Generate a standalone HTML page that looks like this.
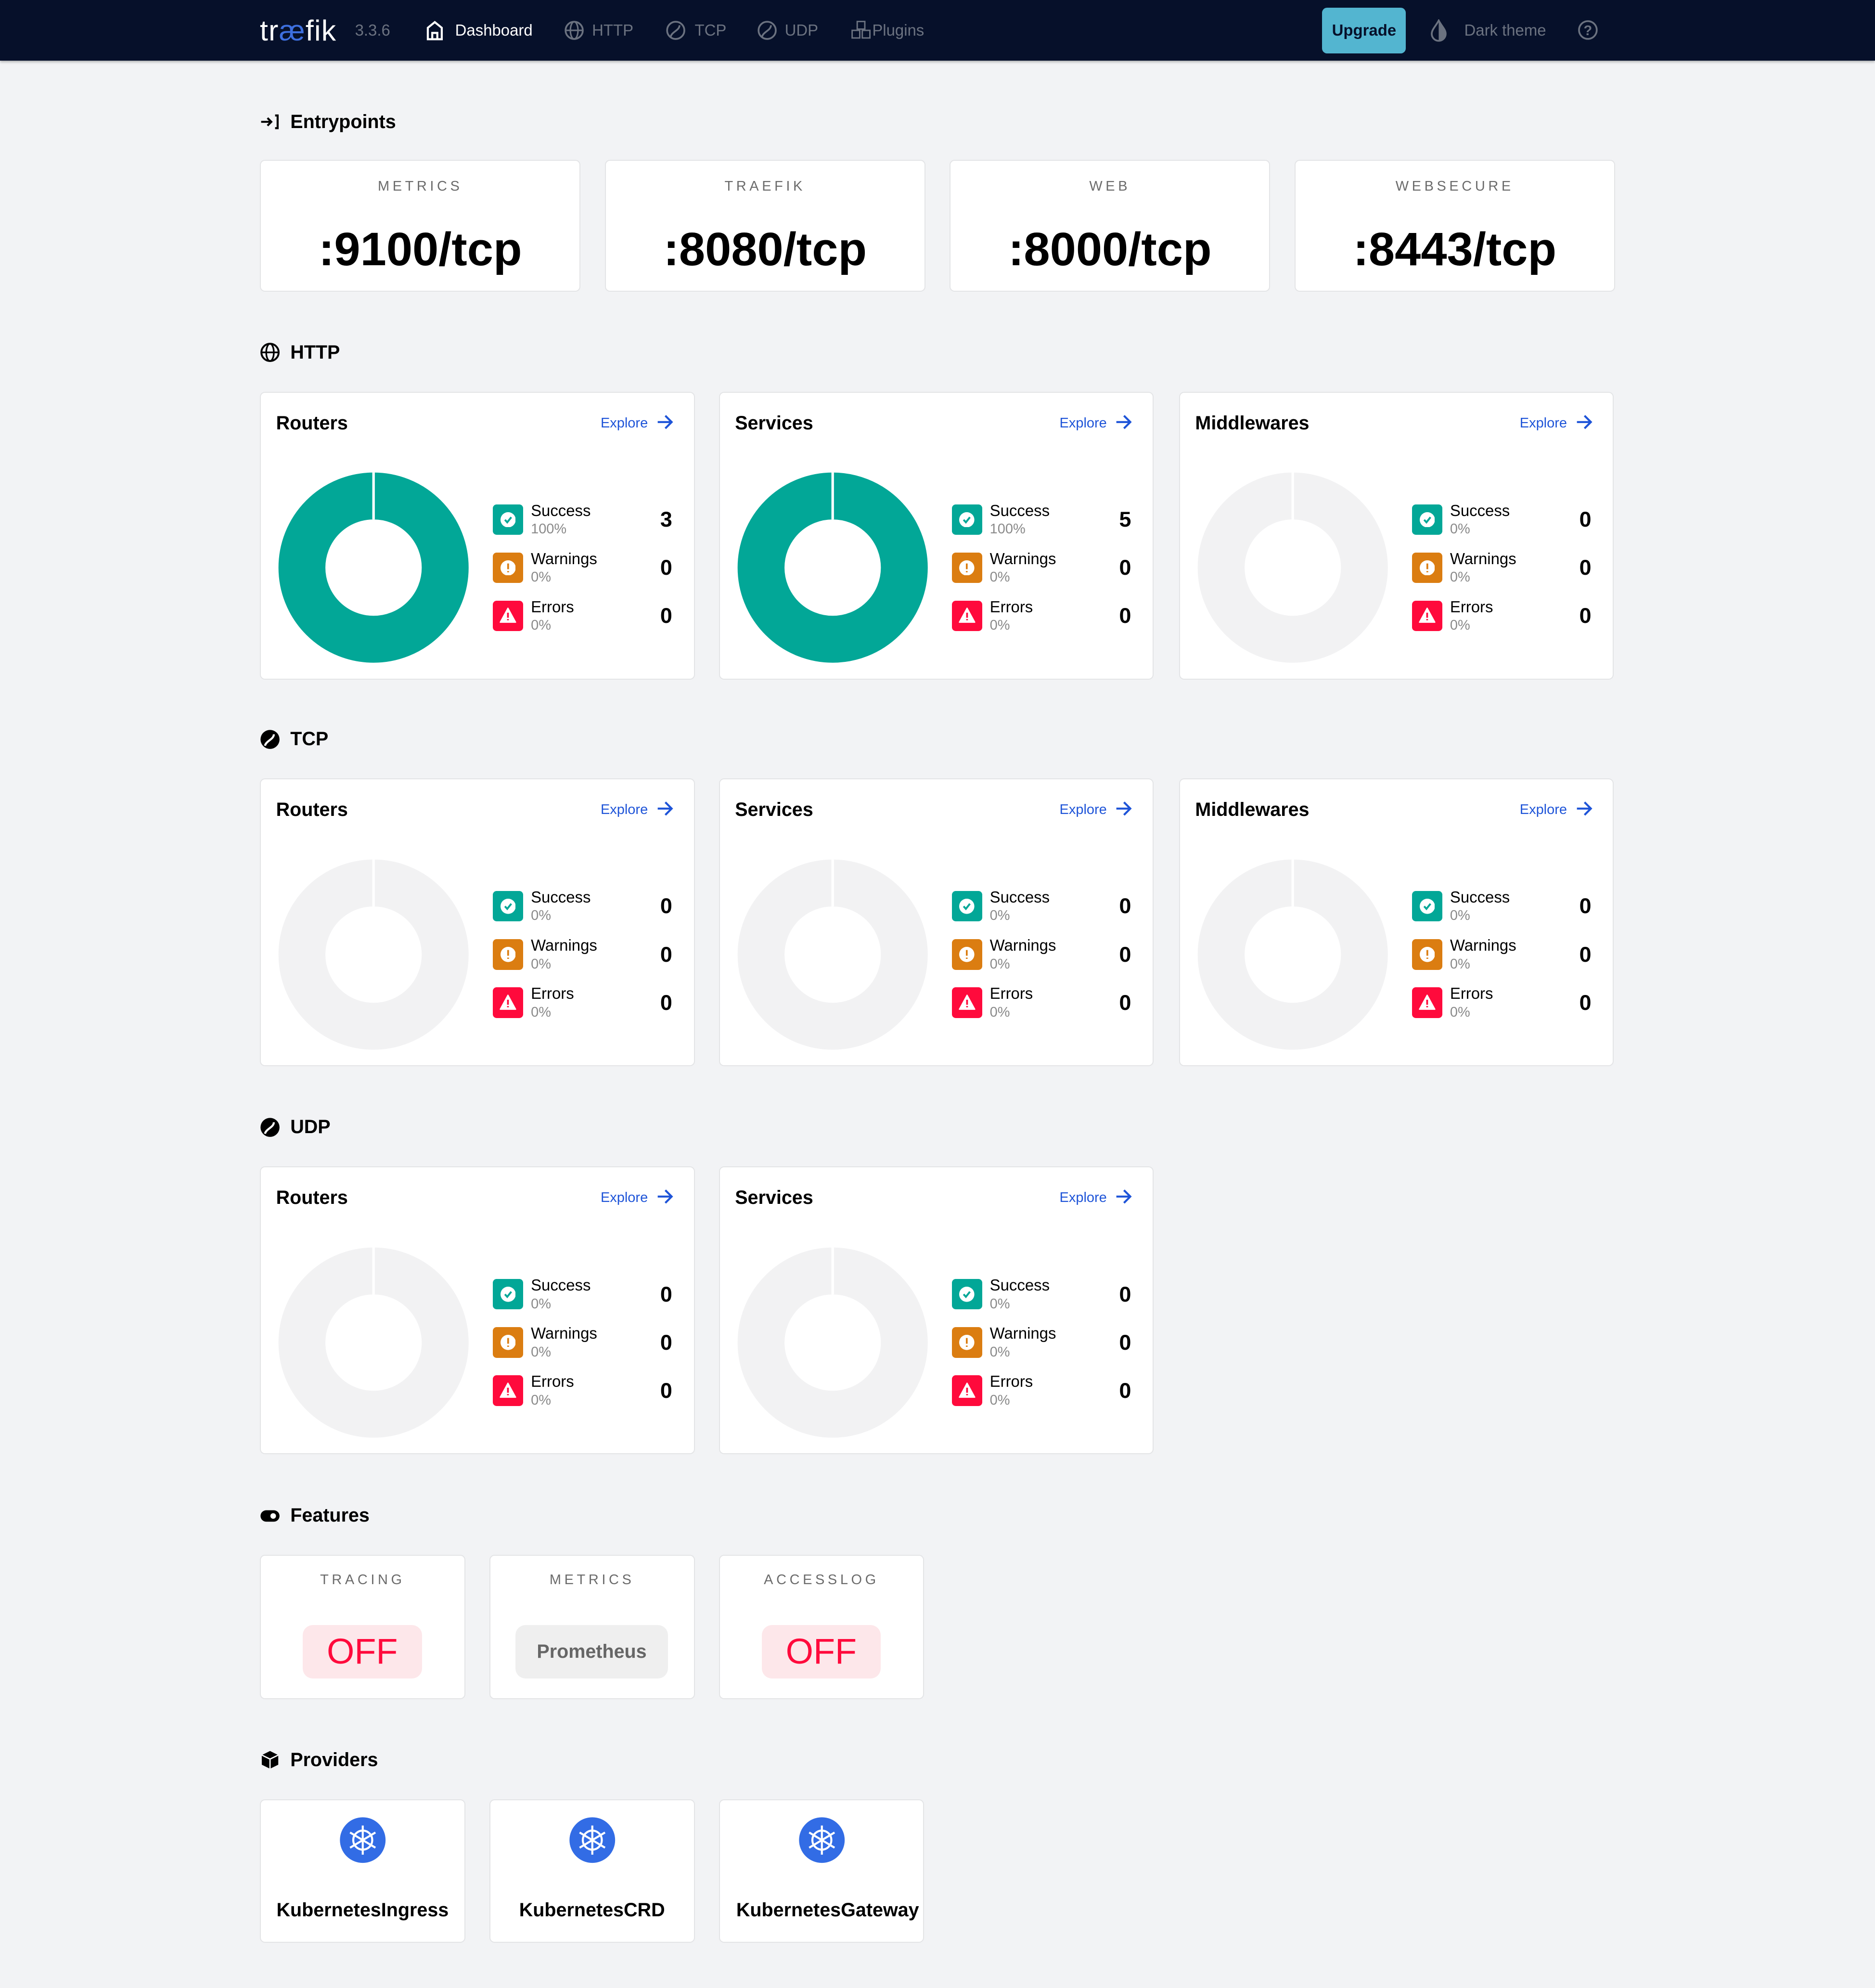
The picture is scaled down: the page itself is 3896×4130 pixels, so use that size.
<!DOCTYPE html>
<html><head><meta charset="utf-8">
<style>
html,body{margin:0;padding:0;background:#f2f3f5;overflow:hidden}
#root{position:relative;width:1479px;height:1568px;zoom:2.63421;font-family:"Liberation Sans",sans-serif;color:#000}
.a{position:absolute}
.hdr{left:0;top:0;width:1479px;height:48px;background:#06102a;box-shadow:0 1px 2px rgba(0,0,0,.3)}
.nav{position:absolute;top:16px;font-size:12.5px;color:#6b7280;line-height:16px}
.sec{position:absolute;left:205px;font-size:15px;font-weight:bold;line-height:20px}
.sec svg{position:absolute;left:0;top:2px}
.sec span{position:absolute;left:24px;white-space:nowrap}
.card{position:absolute;background:#fff;border:1px solid #e3e4e6;border-radius:4px;box-sizing:border-box}
.ep{width:253px;height:104px;top:126px;text-align:center}
.ep .l{position:absolute;left:0;right:0;top:14px;font-size:11px;letter-spacing:2.5px;color:#6b6b6b}
.ep .v{position:absolute;left:0;right:0;top:48px;font-size:37px;font-weight:bold;line-height:44px}
.cc{width:343px;height:227px}
.cc .t{position:absolute;left:12px;top:14px;font-size:15px;font-weight:bold;line-height:20px}
.cc .ex{position:absolute;left:268px;top:17px;font-size:11px;color:#1e54d8;line-height:14px}
.cc .ar{position:absolute;left:312px;top:17px}
.cc .d{position:absolute;left:13px;top:62px}
.ic{position:absolute;left:183px;width:24px;height:24px;border-radius:3px}
.lb{position:absolute;left:213px;font-size:12.5px;line-height:14px}
.pc{position:absolute;left:213px;font-size:11px;color:#8a8a8a;line-height:13px}
.ct{position:absolute;right:17px;font-size:17px;font-weight:bold;line-height:20px}
.fc{width:162px;height:114px;top:1226px;text-align:center}
.fc .l{position:absolute;left:0;right:0;top:13px;font-size:11px;letter-spacing:2.5px;color:#6b6b6b}
.pill{position:absolute;top:55px;height:42px;border-radius:8px;line-height:42px}
.pc2{width:162px;height:113px;top:1419px;text-align:center}
.pc2 .n{position:absolute;left:0;right:0;top:78px;font-size:15px;font-weight:bold;line-height:18px;white-space:nowrap}
</style></head><body><div id="root">

<div class="a hdr"></div>
<div class="a" style="left:205px;top:9px;font-size:23px;color:#fff;line-height:30px;letter-spacing:.5px">tr<span style="color:#3d6fdf">æ</span>fik</div>
<div class="nav" style="left:280px;color:#6b7280">3.3.6</div>
<svg class="a" style="left:336px;top:16px" width="14" height="16" viewBox="0 0 14 16"><path d="M1.5 15V6L7 1.5 12.5 6V15H1.5ZM5 15V10H9V15" fill="none" stroke="#fff" stroke-width="1.6"/></svg>
<div class="nav" style="left:359px;color:#fff">Dashboard</div>
<svg class="a" style="left:445px;top:16px" width="16" height="16"><circle cx="8" cy="8" r="6.8" fill="none" stroke="#6b7280" stroke-width="1.4"/><ellipse cx="8" cy="8" rx="3" ry="6.8" fill="none" stroke="#6b7280" stroke-width="1.2"/><line x1="1" y1="8" x2="15" y2="8" stroke="#6b7280" stroke-width="1.2"/></svg>
<div class="nav" style="left:467px">HTTP</div>
<svg class="a" style="left:525px;top:16px" width="16" height="16"><circle cx="8" cy="8" r="6.8" fill="none" stroke="#6b7280" stroke-width="1.4"/><path d="M4 13C5 9 11 8 11 4" fill="none" stroke="#6b7280" stroke-width="1.4"/></svg>
<div class="nav" style="left:548px">TCP</div>
<svg class="a" style="left:597px;top:16px" width="16" height="16"><circle cx="8" cy="8" r="6.8" fill="none" stroke="#6b7280" stroke-width="1.4"/><path d="M4 13C5 9 11 8 11 4" fill="none" stroke="#6b7280" stroke-width="1.4"/></svg>
<div class="nav" style="left:619px">UDP</div>
<svg class="a" style="left:671px;top:16px" width="16" height="16"><g fill="none" stroke="#6b7280" stroke-width="1.1"><rect x="5" y="1" width="6" height="6"/><rect x="1" y="8" width="6" height="6"/><rect x="9" y="8" width="6" height="6"/></g></svg>
<div class="nav" style="left:688px">Plugins</div>
<div class="a" style="left:1043px;top:6px;width:66px;height:36px;background:#53b5d0;border-radius:4px;font-size:12.5px;color:#06102a;text-align:center;line-height:36px;font-weight:bold">Upgrade</div>
<svg class="a" style="left:1128px;top:15px" width="14" height="18"><path d="M7 1C5 5 1.5 8 1.5 11.5A5.5 5.5 0 0 0 12.5 11.5C12.5 8 9 5 7 1Z" fill="none" stroke="#6b7280" stroke-width="1.4"/><path d="M7 1C9 5 12.5 8 12.5 11.5A5.5 5.5 0 0 1 7 17Z" fill="#6b7280"/></svg>
<div class="nav" style="left:1155px">Dark theme</div>
<svg class="a" style="left:1244px;top:15px" width="17" height="17"><circle cx="8.5" cy="8.5" r="7" fill="none" stroke="#6b7280" stroke-width="1.4"/><text x="8.5" y="12.5" font-size="11" font-family="Liberation Sans" text-anchor="middle" fill="#6b7280" font-weight="bold">?</text></svg>

<div class="sec" style="top:86px"><svg width="16" height="16"><path d="M1 8H9M6 5L9 8 6 11M12 3H14V13H12" fill="none" stroke="#000" stroke-width="1.6"/></svg><span>Entrypoints</span></div>
<div class="card ep" style="left:205px"><div class="l">METRICS</div><div class="v">:9100/tcp</div></div>
<div class="card ep" style="left:477px"><div class="l">TRAEFIK</div><div class="v">:8080/tcp</div></div>
<div class="card ep" style="left:749px"><div class="l">WEB</div><div class="v">:8000/tcp</div></div>
<div class="card ep" style="left:1021px"><div class="l">WEBSECURE</div><div class="v">:8443/tcp</div></div>

<div class="sec" style="top:268px"><svg width="16" height="16"><circle cx="8" cy="8" r="6.8" fill="none" stroke="#000" stroke-width="1.5"/><ellipse cx="8" cy="8" rx="3" ry="6.8" fill="none" stroke="#000" stroke-width="1.3"/><line x1="1" y1="8" x2="15" y2="8" stroke="#000" stroke-width="1.3"/></svg><span>HTTP</span></div>
<div class="sec" style="top:573px"><svg width="16" height="16"><circle cx="8" cy="8" r="7.5" fill="#000"/><path d="M4 13C5 9 11 8 11 4" fill="none" stroke="#fff" stroke-width="1.6"/></svg><span>TCP</span></div>
<div class="sec" style="top:879px"><svg width="16" height="16"><circle cx="8" cy="8" r="7.5" fill="#000"/><path d="M4 13C5 9 11 8 11 4" fill="none" stroke="#fff" stroke-width="1.6"/></svg><span>UDP</span></div>

<div class="sec" style="top:1185px"><svg width="16" height="16"><rect x="0.5" y="4" width="15" height="9" rx="4.5" fill="#000"/><circle cx="10.5" cy="8.5" r="2.2" fill="#fff"/></svg><span>Features</span></div>
<div class="card fc" style="left:205px"><div class="l">TRACING</div><div class="pill" style="left:33px;width:94px;background:#fde7ea;color:#ff0a3c;font-size:28px">OFF</div></div>
<div class="card fc" style="left:386px"><div class="l">METRICS</div><div class="pill" style="left:20px;width:120px;background:#efefef;color:#666;font-size:15px;font-weight:bold">Prometheus</div></div>
<div class="card fc" style="left:567px"><div class="l">ACCESSLOG</div><div class="pill" style="left:33px;width:94px;background:#fde7ea;color:#ff0a3c;font-size:28px">OFF</div></div>

<div class="sec" style="top:1378px"><svg width="16" height="16"><path d="M8 1L14.5 4.2V11.8L8 15 1.5 11.8V4.2Z" fill="#000"/><path d="M1.5 4.2L8 7.4 14.5 4.2M8 7.4V15" fill="none" stroke="#fff" stroke-width="1"/></svg><span>Providers</span></div>
<div class="card pc2" style="left:205px"><svg class="a" style="left:62px;top:13px" width="37" height="37"><circle cx="18.5" cy="18.5" r="18" fill="#326ce5"/><g stroke="#fff" stroke-width="1.6" fill="none"><circle cx="18.5" cy="18.5" r="7.5"/><path d="M18.5 7V30M8.5 12.5L28.5 24.5M8.5 24.5L28.5 12.5"/></g></svg><div class="n">KubernetesIngress</div></div>
<div class="card pc2" style="left:386px"><svg class="a" style="left:62px;top:13px" width="37" height="37"><circle cx="18.5" cy="18.5" r="18" fill="#326ce5"/><g stroke="#fff" stroke-width="1.6" fill="none"><circle cx="18.5" cy="18.5" r="7.5"/><path d="M18.5 7V30M8.5 12.5L28.5 24.5M8.5 24.5L28.5 12.5"/></g></svg><div class="n">KubernetesCRD</div></div>
<div class="card pc2" style="left:567px"><svg class="a" style="left:62px;top:13px" width="37" height="37"><circle cx="18.5" cy="18.5" r="18" fill="#326ce5"/><g stroke="#fff" stroke-width="1.6" fill="none"><circle cx="18.5" cy="18.5" r="7.5"/><path d="M18.5 7V30M8.5 12.5L28.5 24.5M8.5 24.5L28.5 12.5"/></g></svg><div class="n" style="left:13px;right:auto">KubernetesGateway</div></div>

<div class="card cc" style="left:205px;top:309px"><div class="t">Routers</div><div class="ex">Explore</div><svg class="ar" width="14" height="12"><path d="M1 6H12M7 1L12 6 7 11" fill="none" stroke="#1e54d8" stroke-width="1.6"/></svg><svg class="d" width="152" height="152"><circle cx="76" cy="76" r="56.5" fill="none" stroke="#02a797" stroke-width="37"/><line x1="76" y1="0" x2="76" y2="38" stroke="#fff" stroke-width="2"/></svg>
<div class="ic" style="top:88px;background:#02a797"></div><svg class="a" style="left:189px;top:94px" width="12" height="12"><circle cx="6" cy="6" r="6" fill="#fff"/><path d="M3.5 6L5.3 8 8.5 4" fill="none" stroke="#02a797" stroke-width="1.5"/></svg>
<div class="lb" style="top:86px">Success</div><div class="pc" style="top:101px">100%</div><div class="ct" style="top:90px">3</div>
<div class="ic" style="top:126px;background:#db7d11"></div><svg class="a" style="left:189px;top:132px" width="12" height="12"><circle cx="6" cy="6" r="6" fill="#fff"/><path d="M6 2.5V7M6 8.5V9.5" stroke="#db7d11" stroke-width="1.4"/></svg>
<div class="lb" style="top:124px">Warnings</div><div class="pc" style="top:139px">0%</div><div class="ct" style="top:128px">0</div>
<div class="ic" style="top:164px;background:#ff0a3c"></div><svg class="a" style="left:188px;top:169px" width="14" height="13"><path d="M7 1L13 12H1Z" fill="#fff" stroke="#fff" stroke-linejoin="round"/><path d="M7 4.5V8.5M7 9.5V10.5" stroke="#ff0a3c" stroke-width="1.4"/></svg>
<div class="lb" style="top:162px">Errors</div><div class="pc" style="top:177px">0%</div><div class="ct" style="top:166px">0</div></div>

<div class="card cc" style="left:567px;top:309px"><div class="t">Services</div><div class="ex">Explore</div><svg class="ar" width="14" height="12"><path d="M1 6H12M7 1L12 6 7 11" fill="none" stroke="#1e54d8" stroke-width="1.6"/></svg><svg class="d" width="152" height="152"><circle cx="76" cy="76" r="56.5" fill="none" stroke="#02a797" stroke-width="37"/><line x1="76" y1="0" x2="76" y2="38" stroke="#fff" stroke-width="2"/></svg>
<div class="ic" style="top:88px;background:#02a797"></div><svg class="a" style="left:189px;top:94px" width="12" height="12"><circle cx="6" cy="6" r="6" fill="#fff"/><path d="M3.5 6L5.3 8 8.5 4" fill="none" stroke="#02a797" stroke-width="1.5"/></svg>
<div class="lb" style="top:86px">Success</div><div class="pc" style="top:101px">100%</div><div class="ct" style="top:90px">5</div>
<div class="ic" style="top:126px;background:#db7d11"></div><svg class="a" style="left:189px;top:132px" width="12" height="12"><circle cx="6" cy="6" r="6" fill="#fff"/><path d="M6 2.5V7M6 8.5V9.5" stroke="#db7d11" stroke-width="1.4"/></svg>
<div class="lb" style="top:124px">Warnings</div><div class="pc" style="top:139px">0%</div><div class="ct" style="top:128px">0</div>
<div class="ic" style="top:164px;background:#ff0a3c"></div><svg class="a" style="left:188px;top:169px" width="14" height="13"><path d="M7 1L13 12H1Z" fill="#fff" stroke="#fff" stroke-linejoin="round"/><path d="M7 4.5V8.5M7 9.5V10.5" stroke="#ff0a3c" stroke-width="1.4"/></svg>
<div class="lb" style="top:162px">Errors</div><div class="pc" style="top:177px">0%</div><div class="ct" style="top:166px">0</div></div>

<div class="card cc" style="left:930px;top:309px"><div class="t">Middlewares</div><div class="ex">Explore</div><svg class="ar" width="14" height="12"><path d="M1 6H12M7 1L12 6 7 11" fill="none" stroke="#1e54d8" stroke-width="1.6"/></svg><svg class="d" width="152" height="152"><circle cx="76" cy="76" r="56.5" fill="none" stroke="#f2f2f3" stroke-width="37"/><line x1="76" y1="0" x2="76" y2="38" stroke="#fff" stroke-width="2"/></svg>
<div class="ic" style="top:88px;background:#02a797"></div><svg class="a" style="left:189px;top:94px" width="12" height="12"><circle cx="6" cy="6" r="6" fill="#fff"/><path d="M3.5 6L5.3 8 8.5 4" fill="none" stroke="#02a797" stroke-width="1.5"/></svg>
<div class="lb" style="top:86px">Success</div><div class="pc" style="top:101px">0%</div><div class="ct" style="top:90px">0</div>
<div class="ic" style="top:126px;background:#db7d11"></div><svg class="a" style="left:189px;top:132px" width="12" height="12"><circle cx="6" cy="6" r="6" fill="#fff"/><path d="M6 2.5V7M6 8.5V9.5" stroke="#db7d11" stroke-width="1.4"/></svg>
<div class="lb" style="top:124px">Warnings</div><div class="pc" style="top:139px">0%</div><div class="ct" style="top:128px">0</div>
<div class="ic" style="top:164px;background:#ff0a3c"></div><svg class="a" style="left:188px;top:169px" width="14" height="13"><path d="M7 1L13 12H1Z" fill="#fff" stroke="#fff" stroke-linejoin="round"/><path d="M7 4.5V8.5M7 9.5V10.5" stroke="#ff0a3c" stroke-width="1.4"/></svg>
<div class="lb" style="top:162px">Errors</div><div class="pc" style="top:177px">0%</div><div class="ct" style="top:166px">0</div></div>

<div class="card cc" style="left:205px;top:614px"><div class="t">Routers</div><div class="ex">Explore</div><svg class="ar" width="14" height="12"><path d="M1 6H12M7 1L12 6 7 11" fill="none" stroke="#1e54d8" stroke-width="1.6"/></svg><svg class="d" width="152" height="152"><circle cx="76" cy="76" r="56.5" fill="none" stroke="#f2f2f3" stroke-width="37"/><line x1="76" y1="0" x2="76" y2="38" stroke="#fff" stroke-width="2"/></svg>
<div class="ic" style="top:88px;background:#02a797"></div><svg class="a" style="left:189px;top:94px" width="12" height="12"><circle cx="6" cy="6" r="6" fill="#fff"/><path d="M3.5 6L5.3 8 8.5 4" fill="none" stroke="#02a797" stroke-width="1.5"/></svg>
<div class="lb" style="top:86px">Success</div><div class="pc" style="top:101px">0%</div><div class="ct" style="top:90px">0</div>
<div class="ic" style="top:126px;background:#db7d11"></div><svg class="a" style="left:189px;top:132px" width="12" height="12"><circle cx="6" cy="6" r="6" fill="#fff"/><path d="M6 2.5V7M6 8.5V9.5" stroke="#db7d11" stroke-width="1.4"/></svg>
<div class="lb" style="top:124px">Warnings</div><div class="pc" style="top:139px">0%</div><div class="ct" style="top:128px">0</div>
<div class="ic" style="top:164px;background:#ff0a3c"></div><svg class="a" style="left:188px;top:169px" width="14" height="13"><path d="M7 1L13 12H1Z" fill="#fff" stroke="#fff" stroke-linejoin="round"/><path d="M7 4.5V8.5M7 9.5V10.5" stroke="#ff0a3c" stroke-width="1.4"/></svg>
<div class="lb" style="top:162px">Errors</div><div class="pc" style="top:177px">0%</div><div class="ct" style="top:166px">0</div></div>

<div class="card cc" style="left:567px;top:614px"><div class="t">Services</div><div class="ex">Explore</div><svg class="ar" width="14" height="12"><path d="M1 6H12M7 1L12 6 7 11" fill="none" stroke="#1e54d8" stroke-width="1.6"/></svg><svg class="d" width="152" height="152"><circle cx="76" cy="76" r="56.5" fill="none" stroke="#f2f2f3" stroke-width="37"/><line x1="76" y1="0" x2="76" y2="38" stroke="#fff" stroke-width="2"/></svg>
<div class="ic" style="top:88px;background:#02a797"></div><svg class="a" style="left:189px;top:94px" width="12" height="12"><circle cx="6" cy="6" r="6" fill="#fff"/><path d="M3.5 6L5.3 8 8.5 4" fill="none" stroke="#02a797" stroke-width="1.5"/></svg>
<div class="lb" style="top:86px">Success</div><div class="pc" style="top:101px">0%</div><div class="ct" style="top:90px">0</div>
<div class="ic" style="top:126px;background:#db7d11"></div><svg class="a" style="left:189px;top:132px" width="12" height="12"><circle cx="6" cy="6" r="6" fill="#fff"/><path d="M6 2.5V7M6 8.5V9.5" stroke="#db7d11" stroke-width="1.4"/></svg>
<div class="lb" style="top:124px">Warnings</div><div class="pc" style="top:139px">0%</div><div class="ct" style="top:128px">0</div>
<div class="ic" style="top:164px;background:#ff0a3c"></div><svg class="a" style="left:188px;top:169px" width="14" height="13"><path d="M7 1L13 12H1Z" fill="#fff" stroke="#fff" stroke-linejoin="round"/><path d="M7 4.5V8.5M7 9.5V10.5" stroke="#ff0a3c" stroke-width="1.4"/></svg>
<div class="lb" style="top:162px">Errors</div><div class="pc" style="top:177px">0%</div><div class="ct" style="top:166px">0</div></div>

<div class="card cc" style="left:930px;top:614px"><div class="t">Middlewares</div><div class="ex">Explore</div><svg class="ar" width="14" height="12"><path d="M1 6H12M7 1L12 6 7 11" fill="none" stroke="#1e54d8" stroke-width="1.6"/></svg><svg class="d" width="152" height="152"><circle cx="76" cy="76" r="56.5" fill="none" stroke="#f2f2f3" stroke-width="37"/><line x1="76" y1="0" x2="76" y2="38" stroke="#fff" stroke-width="2"/></svg>
<div class="ic" style="top:88px;background:#02a797"></div><svg class="a" style="left:189px;top:94px" width="12" height="12"><circle cx="6" cy="6" r="6" fill="#fff"/><path d="M3.5 6L5.3 8 8.5 4" fill="none" stroke="#02a797" stroke-width="1.5"/></svg>
<div class="lb" style="top:86px">Success</div><div class="pc" style="top:101px">0%</div><div class="ct" style="top:90px">0</div>
<div class="ic" style="top:126px;background:#db7d11"></div><svg class="a" style="left:189px;top:132px" width="12" height="12"><circle cx="6" cy="6" r="6" fill="#fff"/><path d="M6 2.5V7M6 8.5V9.5" stroke="#db7d11" stroke-width="1.4"/></svg>
<div class="lb" style="top:124px">Warnings</div><div class="pc" style="top:139px">0%</div><div class="ct" style="top:128px">0</div>
<div class="ic" style="top:164px;background:#ff0a3c"></div><svg class="a" style="left:188px;top:169px" width="14" height="13"><path d="M7 1L13 12H1Z" fill="#fff" stroke="#fff" stroke-linejoin="round"/><path d="M7 4.5V8.5M7 9.5V10.5" stroke="#ff0a3c" stroke-width="1.4"/></svg>
<div class="lb" style="top:162px">Errors</div><div class="pc" style="top:177px">0%</div><div class="ct" style="top:166px">0</div></div>

<div class="card cc" style="left:205px;top:920px"><div class="t">Routers</div><div class="ex">Explore</div><svg class="ar" width="14" height="12"><path d="M1 6H12M7 1L12 6 7 11" fill="none" stroke="#1e54d8" stroke-width="1.6"/></svg><svg class="d" width="152" height="152"><circle cx="76" cy="76" r="56.5" fill="none" stroke="#f2f2f3" stroke-width="37"/><line x1="76" y1="0" x2="76" y2="38" stroke="#fff" stroke-width="2"/></svg>
<div class="ic" style="top:88px;background:#02a797"></div><svg class="a" style="left:189px;top:94px" width="12" height="12"><circle cx="6" cy="6" r="6" fill="#fff"/><path d="M3.5 6L5.3 8 8.5 4" fill="none" stroke="#02a797" stroke-width="1.5"/></svg>
<div class="lb" style="top:86px">Success</div><div class="pc" style="top:101px">0%</div><div class="ct" style="top:90px">0</div>
<div class="ic" style="top:126px;background:#db7d11"></div><svg class="a" style="left:189px;top:132px" width="12" height="12"><circle cx="6" cy="6" r="6" fill="#fff"/><path d="M6 2.5V7M6 8.5V9.5" stroke="#db7d11" stroke-width="1.4"/></svg>
<div class="lb" style="top:124px">Warnings</div><div class="pc" style="top:139px">0%</div><div class="ct" style="top:128px">0</div>
<div class="ic" style="top:164px;background:#ff0a3c"></div><svg class="a" style="left:188px;top:169px" width="14" height="13"><path d="M7 1L13 12H1Z" fill="#fff" stroke="#fff" stroke-linejoin="round"/><path d="M7 4.5V8.5M7 9.5V10.5" stroke="#ff0a3c" stroke-width="1.4"/></svg>
<div class="lb" style="top:162px">Errors</div><div class="pc" style="top:177px">0%</div><div class="ct" style="top:166px">0</div></div>

<div class="card cc" style="left:567px;top:920px"><div class="t">Services</div><div class="ex">Explore</div><svg class="ar" width="14" height="12"><path d="M1 6H12M7 1L12 6 7 11" fill="none" stroke="#1e54d8" stroke-width="1.6"/></svg><svg class="d" width="152" height="152"><circle cx="76" cy="76" r="56.5" fill="none" stroke="#f2f2f3" stroke-width="37"/><line x1="76" y1="0" x2="76" y2="38" stroke="#fff" stroke-width="2"/></svg>
<div class="ic" style="top:88px;background:#02a797"></div><svg class="a" style="left:189px;top:94px" width="12" height="12"><circle cx="6" cy="6" r="6" fill="#fff"/><path d="M3.5 6L5.3 8 8.5 4" fill="none" stroke="#02a797" stroke-width="1.5"/></svg>
<div class="lb" style="top:86px">Success</div><div class="pc" style="top:101px">0%</div><div class="ct" style="top:90px">0</div>
<div class="ic" style="top:126px;background:#db7d11"></div><svg class="a" style="left:189px;top:132px" width="12" height="12"><circle cx="6" cy="6" r="6" fill="#fff"/><path d="M6 2.5V7M6 8.5V9.5" stroke="#db7d11" stroke-width="1.4"/></svg>
<div class="lb" style="top:124px">Warnings</div><div class="pc" style="top:139px">0%</div><div class="ct" style="top:128px">0</div>
<div class="ic" style="top:164px;background:#ff0a3c"></div><svg class="a" style="left:188px;top:169px" width="14" height="13"><path d="M7 1L13 12H1Z" fill="#fff" stroke="#fff" stroke-linejoin="round"/><path d="M7 4.5V8.5M7 9.5V10.5" stroke="#ff0a3c" stroke-width="1.4"/></svg>
<div class="lb" style="top:162px">Errors</div><div class="pc" style="top:177px">0%</div><div class="ct" style="top:166px">0</div></div>

</div></body></html>
